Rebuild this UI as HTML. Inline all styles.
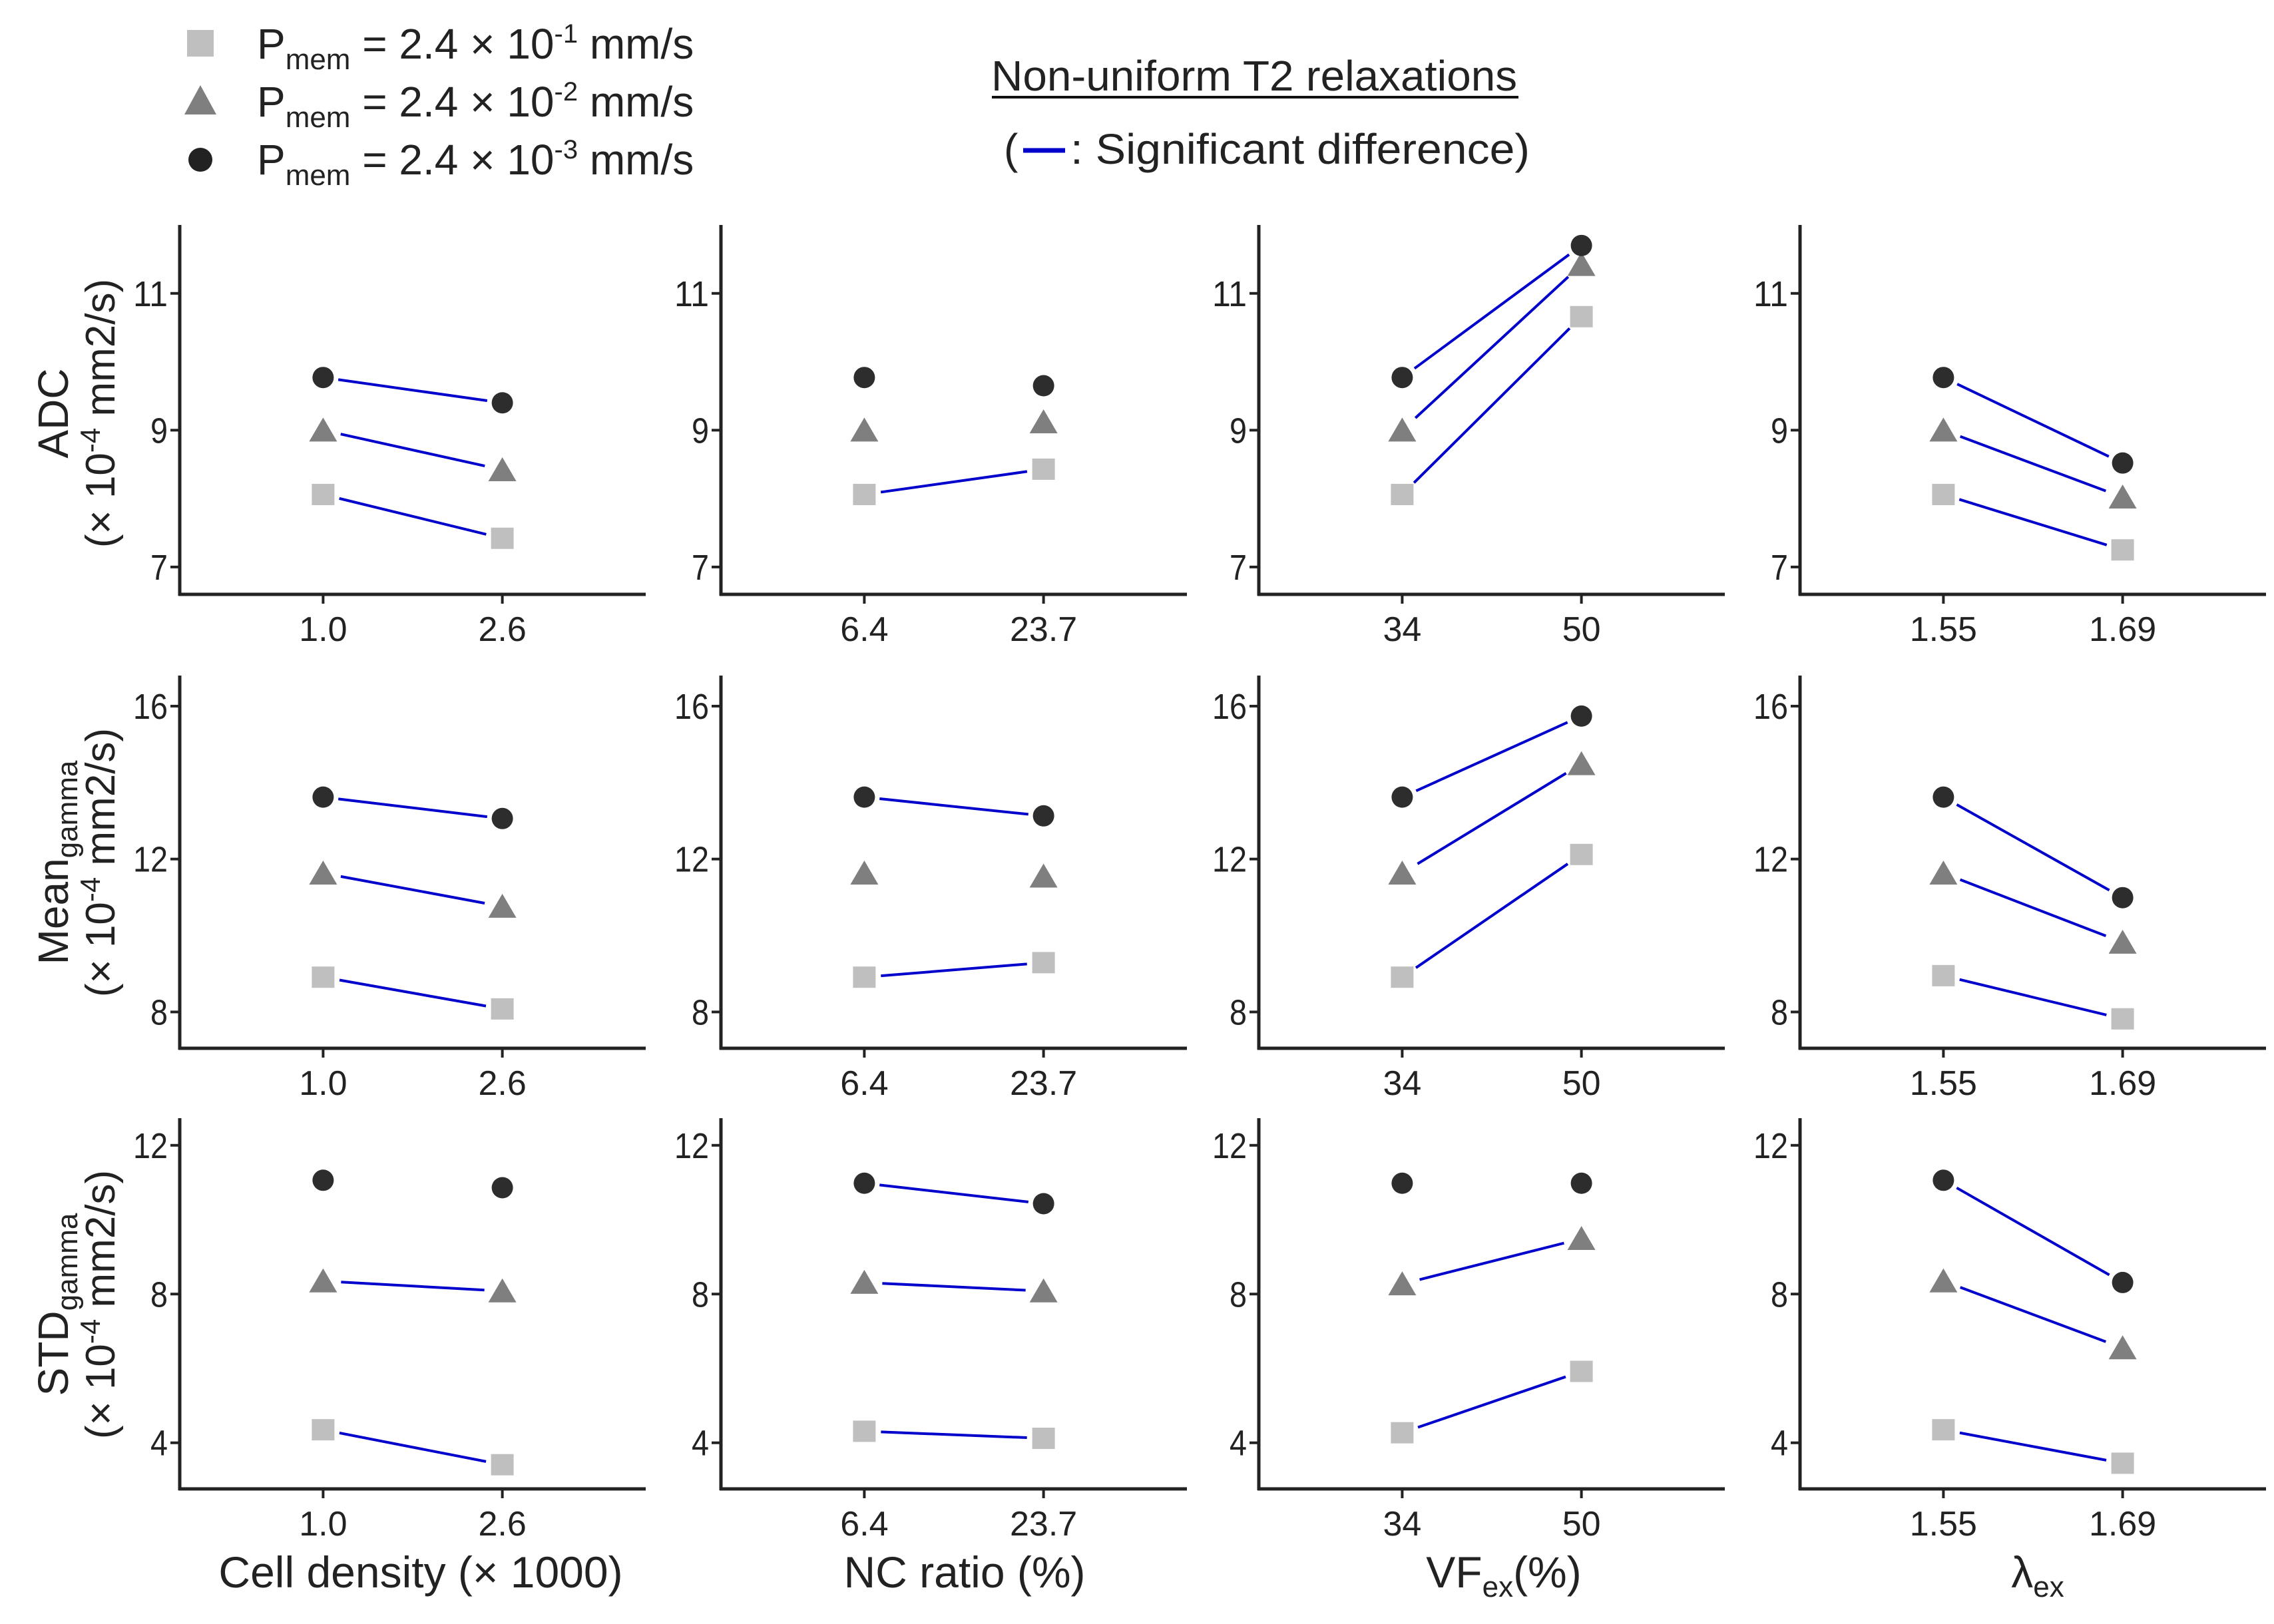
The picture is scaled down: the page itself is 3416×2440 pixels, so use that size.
<!DOCTYPE html>
<html><head><meta charset="utf-8"><style>
html,body{margin:0;padding:0;background:#fff;}
svg{display:block;}
text{font-family:"Liberation Sans",sans-serif;fill:#222;}
</style></head><body>
<svg id="chart" width="3416" height="2440" viewBox="0 0 3416 2440" xmlns="http://www.w3.org/2000/svg">
<g id="legend">
  <rect x="281" y="45" width="40" height="40" fill="#bfbfbf"/>
  <polygon points="301,128 325,172 277,172" fill="#7f7f7f"/>
  <circle cx="301" cy="240" r="18" fill="#222"/>
  <text x="386" y="88" font-size="64">P<tspan font-size="44" dy="16">mem</tspan><tspan dy="-16"> = 2.4 × 10</tspan><tspan font-size="40" dy="-24">-1</tspan><tspan dy="24"> mm/s</tspan></text>
  <text x="386" y="175" font-size="64">P<tspan font-size="44" dy="16">mem</tspan><tspan dy="-16"> = 2.4 × 10</tspan><tspan font-size="40" dy="-24">-2</tspan><tspan dy="24"> mm/s</tspan></text>
  <text x="386" y="262" font-size="64">P<tspan font-size="44" dy="16">mem</tspan><tspan dy="-16"> = 2.4 × 10</tspan><tspan font-size="40" dy="-24">-3</tspan><tspan dy="24"> mm/s</tspan></text>
  <text x="1884" y="136" font-size="64" text-anchor="middle" textLength="790" lengthAdjust="spacingAndGlyphs">Non-uniform T2 relaxations</text>
  <line x1="1490" y1="146" x2="2281" y2="146" stroke="#111" stroke-width="4"/>
  <text x="1508" y="246" font-size="64">(</text>
  <line x1="1537" y1="226" x2="1600" y2="226" stroke="#0000cc" stroke-width="7"/>
  <text x="1608" y="246" font-size="64" textLength="690" lengthAdjust="spacingAndGlyphs">: Significant difference)</text>
</g>
<g id="plots"></g>
</svg>
<script>
// Data: rows = metrics, cols = factors; series order: square (2.4e-1), triangle (2.4e-2), circle (2.4e-3)
const colTickLabels = [["1.0","2.6"],["6.4","23.7"],["34","50"],["1.55","1.69"]];
const colTitles = ["Cell density (× 1000)","NC ratio (%)","VF","λ"];
const rowTicks = [[7,9,11],[8,12,16],[4,8,12]];
const rowDomains = [[6.6,12.0],[7.05,16.8],[2.76,12.73]];
// ADC
const adcSquare = [[8.06,7.42],[8.06,8.43],[8.06,10.66],[8.06,7.25]];
const adcTriangle = [[9.0,8.42],[9.0,9.12],[9.0,11.42],[9.0,8.02]];
const adcCircle = [[9.77,9.40],[9.77,9.65],[9.77,11.70],[9.77,8.52]];
const adcSig = [[1,1,1],[1,0,0],[1,1,1],[1,1,1]];
// Mean gamma
const meanSquare = [[8.91,8.08],[8.91,9.29],[8.91,12.12],[8.95,7.82]];
const meanTriangle = [[11.63,10.76],[11.63,11.55],[11.63,14.49],[11.63,9.82]];
const meanCircle = [[13.62,13.06],[13.62,13.13],[13.62,15.74],[13.62,10.99]];
const meanSig = [[1,1,1],[1,0,1],[1,1,1],[1,1,1]];
// STD gamma
const stdSquare = [[4.35,3.41],[4.31,4.12],[4.27,5.92],[4.35,3.45]];
const stdTriangle = [[8.35,8.08],[8.31,8.08],[8.27,9.49],[8.35,6.55]];
const stdCircle = [[11.06,10.86],[10.98,10.43],[10.98,10.98],[11.06,8.31]];
const stdSig = [[1,1,0],[1,1,1],[1,1,0],[1,1,1]];

const rowsData = [
  [adcSquare,adcTriangle,adcCircle,adcSig],
  [meanSquare,meanTriangle,meanCircle,meanSig],
  [stdSquare,stdTriangle,stdCircle,stdSig]
];
const NS="http://www.w3.org/2000/svg";
const root=document.getElementById('plots');
const colX=[270,1083,1891,2704], panelW=700;
const rowTop=[338,1015,1680], rowBot=[893,1575,2237];
function mk(tag,attrs,parent){const e=document.createElementNS(NS,tag);for(const k in attrs)e.setAttribute(k,attrs[k]);parent.appendChild(e);return e;}
function xScale(c,i){return colX[c]+(i+1-0.2)/2.6*panelW;}
function yScale(r,v){const d=rowDomains[r];return rowBot[r]-(v-d[0])/(d[1]-d[0])*(rowBot[r]-rowTop[r]);}
const rowNames=['adc','mean-gamma','std-gamma'];
const seriesNames=['square','triangle','circle'];
const radii=[19,21,17];
for(let r=0;r<3;r++){
  for(let c=0;c<4;c++){
    const g=mk('g',{},root);
    
    
    const ax=colX[c];
    const yl=mk('line',{x1:ax,y1:rowTop[r],x2:ax,y2:rowBot[r]+2,stroke:'#222','stroke-width':5},g);
    
    
    const xl=mk('line',{x1:ax-2,y1:rowBot[r],x2:ax+panelW,y2:rowBot[r],stroke:'#222','stroke-width':5},g);
    
    
    rowTicks[r].forEach(t=>{
      const y=yScale(r,t);
      const tl=mk('line',{x1:ax-14,y1:y,x2:ax,y2:y,stroke:'#222','stroke-width':4},g);
      
      
      const tx=mk('text',{x:ax-18,y:y+19,'font-size':54,'text-anchor':'end',textLength:t>=10?52:26,lengthAdjust:'spacingAndGlyphs'},g);
      tx.textContent=t;
      
      
    });
    for(let i=0;i<2;i++){
      const x=xScale(c,i);
      const tl=mk('line',{x1:x,y1:rowBot[r],x2:x,y2:rowBot[r]+14,stroke:'#222','stroke-width':4},g);
      
      
      const tx=mk('text',{x:x,y:rowBot[r]+70,'font-size':52,'text-anchor':'middle'},g);
      tx.textContent=colTickLabels[c][i];
      
      
    }
    const d=rowsData[r];
    for(let s=0;s<3;s++){
      const vals=d[s][c];
      const x1=xScale(c,0),x2=xScale(c,1),y1=yScale(r,vals[0]),y2=yScale(r,vals[1]);
      if(d[3][c][s]){
        const dx=x2-x1,dy=y2-y1,L=Math.hypot(dx,dy),o=radii[s]+6;
        const ln=mk('line',{x1:x1+dx/L*o,y1:y1+dy/L*o,x2:x2-dx/L*o,y2:y2-dy/L*o,stroke:'#0000cc','stroke-width':4},g);
        
        
      }
      [[x1,y1],[x2,y2]].forEach(p=>{
        let m;
        if(s===0) m=mk('rect',{x:p[0]-17,y:p[1]-16,width:34,height:32,fill:'#bfbfbf'},g);
        else if(s===1) m=mk('polygon',{points:`${p[0]},${p[1]-19} ${p[0]+21},${p[1]+17} ${p[0]-21},${p[1]+17}`,fill:'#7f7f7f'},g);
        else m=mk('circle',{cx:p[0],cy:p[1],r:16,fill:'#2d2d2d'},g);
        
        
      });
    }
  }
}
// Y axis titles
const yTitles=[["ADC",""],["Mean","gamma"],["STD","gamma"]];
const yCenters=[621,1296,1960];
for(let r=0;r<3;r++){
  const t=mk('text',{x:0,y:0,'font-size':64,'text-anchor':'middle',transform:`translate(102,${yCenters[r]}) rotate(-90)`},root);
  
  
  t.appendChild(document.createTextNode(yTitles[r][0]));
  if(yTitles[r][1]){const ts=mk('tspan',{'font-size':44,dy:14},t);ts.textContent=yTitles[r][1];}
  const u=mk('text',{x:0,y:0,'font-size':62,'text-anchor':'middle',transform:`translate(172,${yCenters[r]}) rotate(-90)`},root);
  
  
  u.appendChild(document.createTextNode('(× 10'));
  const sp=mk('tspan',{'font-size':42,dy:-22},u);sp.textContent='-4';
  const rest=mk('tspan',{dy:22},u);rest.textContent=' mm2/s)';
}
// X axis titles
const xTitleCenters=[632,1449,2259,3061];
for(let c=0;c<4;c++){
  const t=mk('text',{x:xTitleCenters[c],y:2385,'font-size':66,'text-anchor':'middle'},root);
  
  
  t.appendChild(document.createTextNode(colTitles[c]));
  if(c>=2){const ts=mk('tspan',{'font-size':44,dy:14},t);ts.textContent='ex';}
  if(c===2){const ts=mk('tspan',{dy:-14},t);ts.textContent='(%)';}
}
</script>
</body></html>
